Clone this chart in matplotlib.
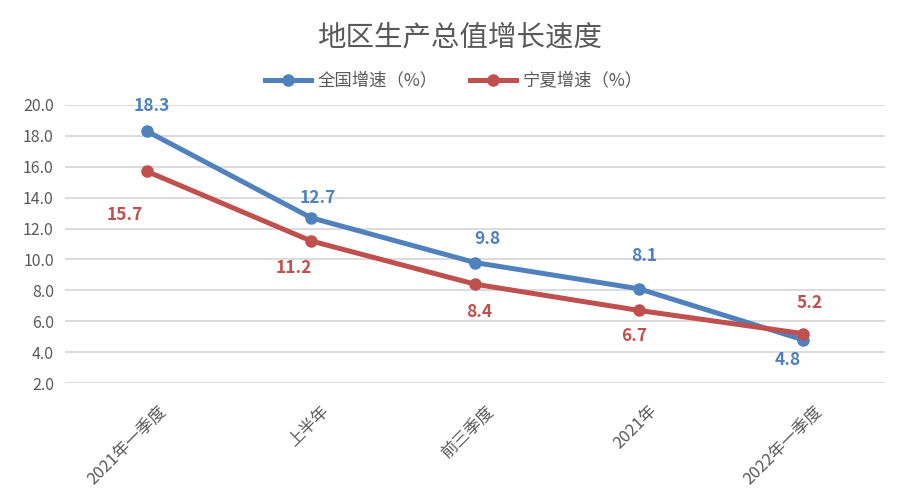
import matplotlib
matplotlib.use("Agg")
import matplotlib.pyplot as plt
from matplotlib.lines import Line2D
from matplotlib.transforms import ScaledTranslation

plt.rcParams['font.family'] = ['Noto Sans CJK SC', 'DejaVu Sans']

categories = ["2021年一季度", "上半年", "前三季度", "2021年", "2022年一季度"]
national = [18.3, 12.7, 9.8, 8.1, 4.8]
ningxia = [15.7, 11.2, 8.4, 6.7, 5.2]
series_names = ["全国增速（%）", "宁夏增速（%）"]
yticks = [2.0, 4.0, 6.0, 8.0, 10.0, 12.0, 14.0, 16.0, 18.0, 20.0]

blue = "#4F81BD"
red = "#C0504D"
text_gray = "#595959"

fig = plt.figure(figsize=(9.19, 5.04), dpi=100)
ax = fig.add_axes([0.0707, 0.240, 0.8923, 0.5517])

x = list(range(len(categories)))
ax.plot(x, national, color=blue, lw=3.6, marker='o', ms=8, solid_capstyle='round', zorder=3)
ax.plot(x, ningxia, color=red, lw=3.6, marker='o', ms=8, solid_capstyle='round', zorder=3)

ax.set_xlim(-0.5, len(categories) - 0.5)
ax.set_ylim(2, 20)
ax.set_yticks(yticks)
ax.set_yticklabels([f"{v:.1f}" for v in yticks], fontsize=11.5, color=text_gray)
ax.grid(axis='y', color='#D9D9D9', lw=1.3)
ax.set_axisbelow(True)
for s in ax.spines.values():
    s.set_visible(False)
ax.tick_params(axis='both', length=0)
ax.tick_params(axis='y', pad=8)
ax.set_xticks(x)
ax.set_xticklabels(categories, rotation=45, ha='right', va='top', rotation_mode='anchor',
                   fontsize=12, color=text_gray)
ax.tick_params(axis='x', pad=14)
shift = ScaledTranslation(10 / 100, 0, fig.dpi_scale_trans)
for lab in ax.get_xticklabels():
    lab.set_transform(lab.get_transform() + shift)

# data labels (offsets in points)
nat_off = [(3.6, 18), (4.8, 14.4), (8.6, 16.6), (3.6, 23.8), (-10.8, -14.4)]
nx_off = [(-15.8, -31.7), (-12.2, -19.4), (2.9, -20.2), (-3.6, -18.7), (5, 22.3)]
for i, v in enumerate(national):
    ax.annotate(f"{v:.1f}", (i, v), xytext=nat_off[i], textcoords='offset points',
                ha='center', va='center', color=blue, fontsize=12.5, fontweight='bold')
for i, v in enumerate(ningxia):
    ax.annotate(f"{v:.1f}", (i, v), xytext=nx_off[i], textcoords='offset points',
                ha='center', va='center', color=red, fontsize=12.5, fontweight='bold')

fig.text(0.4995, 0.925, "地区生产总值增长速度", ha='center', va='center',
         fontsize=20.5, color=text_gray)

handles = [Line2D([], [], color=blue, lw=3.6, marker='o', ms=8),
           Line2D([], [], color=red, lw=3.6, marker='o', ms=8)]
leg = fig.legend(handles, series_names, loc='center', bbox_to_anchor=(0.494, 0.84), ncol=2,
                 frameon=False, fontsize=12.5, handlelength=2.65, columnspacing=1.9,
                 handletextpad=0.35)
for t in leg.get_texts():
    t.set_color(text_gray)

fig.savefig("out.png", dpi=100)
